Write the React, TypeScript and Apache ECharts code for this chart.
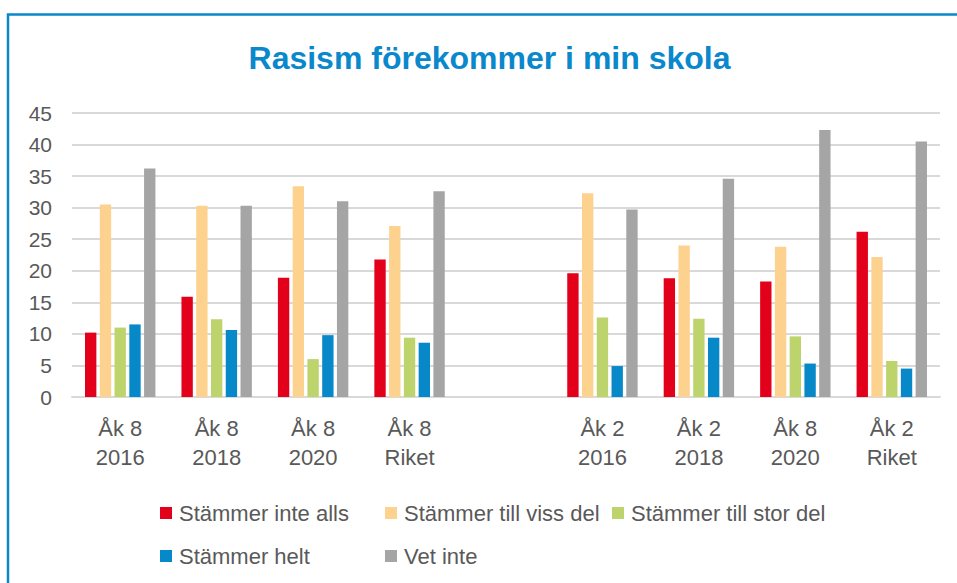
import React, { useEffect, useRef } from "react";
import * as echarts from "echarts";

const categories = [
  "Åk 8\n2016",
  "Åk 8\n2018",
  "Åk 8\n2020",
  "Åk 8\nRiket",
  "",
  "Åk 2\n2016",
  "Åk 2\n2018",
  "Åk 8\n2020",
  "Åk 2\nRiket",
];

const seriesNames = [
  "Stämmer inte alls",
  "Stämmer till viss del",
  "Stämmer till stor del",
  "Stämmer helt",
  "Vet inte",
];

const stammerInteAlls = [10.2, 15.9, 18.9, 21.8, null, 19.6, 18.8, 18.3, 26.2];
const stammerTillVissDel = [30.5, 30.3, 33.4, 27.1, null, 32.3, 24.0, 23.8, 22.2];
const stammerTillStorDel = [11.0, 12.3, 6.0, 9.4, null, 12.6, 12.4, 9.6, 5.7];
const stammerHelt = [11.5, 10.6, 9.8, 8.6, null, 4.9, 9.4, 5.3, 4.5];
const vetInte = [36.2, 30.3, 31.0, 32.6, null, 29.7, 34.6, 42.3, 40.5];

const colors = ["#e3001b", "#fdd28e", "#bdd36c", "#0788c9", "#a5a5a5"];

const FONT = "'Liberation Sans', Arial, sans-serif";
const TEXT = "#595959";

export default function App() {
  const ref = useRef<HTMLDivElement>(null);

  useEffect(() => {
    document.body.style.margin = "0";
    if (!ref.current) return;
    const chart = echarts.init(ref.current, null, { renderer: "svg" });
    const values = [stammerInteAlls, stammerTillVissDel, stammerTillStorDel, stammerHelt, vetInte];

    const legendPos = [
      { left: 160, top: 502 },
      { left: 385, top: 502 },
      { left: 612, top: 502 },
      { left: 160, top: 545 },
      { left: 385, top: 545 },
    ];

    chart.setOption({
      animation: false,
      backgroundColor: "#ffffff",
      textStyle: { fontFamily: FONT },
      graphic: [
        {
          type: "rect",
          shape: { x: 8, y: 14.5, width: 1200, height: 1200 },
          style: { fill: "none", stroke: "#0a88cc", lineWidth: 2.5 },
          silent: true,
        },
        {
          type: "text",
          x: 489.5,
          y: 58,
          style: {
            text: "Rasism förekommer i min skola",
            fill: "#0a88cc",
            font: `bold 32px ${FONT}`,
            textAlign: "center",
            textVerticalAlign: "middle",
          },
          silent: true,
        },
      ],
      legend: seriesNames.map((name, i) => ({
        data: [name],
        left: legendPos[i].left,
        top: legendPos[i].top,
        padding: 0,
        itemWidth: 12,
        itemHeight: 12,
        icon: "rect",
        selectedMode: false,
        textStyle: { fontSize: 22, color: TEXT, fontFamily: FONT, lineHeight: 22, padding: [0, 0, 0, 2] },
      })),
      grid: { left: 72, right: 17, top: 113, bottom: 186, containLabel: false },
      xAxis: {
        type: "category",
        data: categories,
        axisTick: { show: false },
        axisLine: { lineStyle: { color: "#d9d9d9", width: 2 } },
        axisLabel: {
          interval: 0,
          fontSize: 22,
          lineHeight: 29,
          color: TEXT,
          margin: 17,
          fontFamily: FONT,
        },
      },
      yAxis: {
        type: "value",
        min: 0,
        max: 45,
        interval: 5,
        axisLine: { show: false },
        axisTick: { show: false },
        splitLine: { lineStyle: { color: "#d9d9d9", width: 2 } },
        axisLabel: { fontSize: 21, color: TEXT, margin: 20, fontFamily: FONT },
      },
      series: seriesNames.map((name, i) => ({
        name,
        type: "bar",
        data: values[i],
        barGap: "30%",
        barCategoryGap: "27%",
        itemStyle: { color: colors[i] },
      })),
    });

    return () => chart.dispose();
  }, []);

  return <div ref={ref} style={{ width: 957, height: 583 }} />;
}
